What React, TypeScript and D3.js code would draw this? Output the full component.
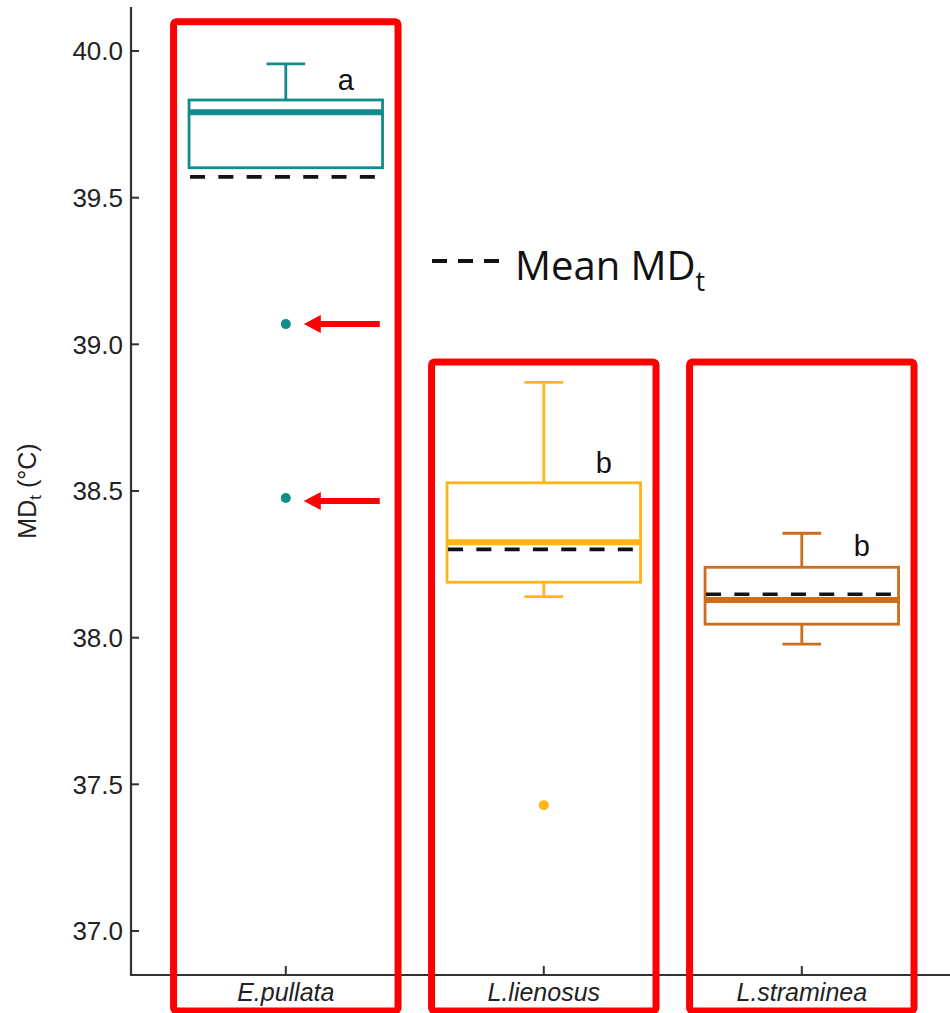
import React from "react";
import * as d3 from "d3";

// Species and their box-plot summaries (MDt, °C)
const species = ["E.pullata", "L.lienosus", "L.straminea"];
const whiskerLow = [39.602, 38.14, 37.978];
const q1 = [39.602, 38.189, 38.046];
const medians = [39.791, 38.325, 38.128];
const q3 = [39.833, 38.528, 38.24];
const whiskerHigh = [39.956, 38.87, 38.356];
const means = [39.571, 38.301, 38.148];
const outliers = [[39.069, 38.476], [37.429], []];
const groupLetters = ["a", "b", "b"];
const letterValues = [39.868, 38.561, 38.278];
const colors = ["#118C8C", "#FFB614", "#CC6D1A"];
const yTicks = [37.0, 37.5, 38.0, 38.5, 39.0, 39.5, 40.0];
// Highlight frames: top of each frame in data units
const frameTops = [40.1, 38.94, 38.94];
// Outliers pointed out with arrows
const arrowTargets = [39.069, 38.476];

const W = 950;
const H = 1013;
const axisX = 131;
const axisY = 975;

export default function App() {
  const y = d3.scaleLinear().domain([37, 40]).range([931, 51]);
  const x = d3.scaleLinear().domain([0.4, 3.6]).range([axisX, axisX + 3.2 * 258]);
  const boxHalf = x(1.375) - x(1);
  const capHalf = x(1.075) - x(1);
  const frameHalf = x(1.435) - x(1);
  const font = "'Liberation Sans', Arial, sans-serif";
  const axisColor = "#333333";
  const boxStroke = 2.8;

  return (
    <svg
      width={W}
      height={H}
      style={{ position: "absolute", left: 0, top: 0, background: "#fff" }}
    >
      <rect x={0} y={0} width={W} height={H} fill="#fff" />

      {/* axes */}
      <line x1={axisX} y1={7} x2={axisX} y2={axisY + 1} stroke={axisColor} strokeWidth={2.2} />
      <line x1={axisX - 1} y1={axisY} x2={W} y2={axisY} stroke={axisColor} strokeWidth={2.2} />
      {yTicks.map((t) => (
        <g key={t}>
          <line x1={axisX} x2={axisX + 8} y1={y(t)} y2={y(t)} stroke={axisColor} strokeWidth={2} />
          <text
            x={axisX - 8}
            y={y(t)}
            dy="0.36em"
            textAnchor="end"
            fontFamily={font}
            fontSize={26}
            fill="#222"
          >
            {t.toFixed(1)}
          </text>
        </g>
      ))}
      {species.map((s, i) => (
        <g key={s}>
          <line x1={x(i + 1)} x2={x(i + 1)} y1={axisY} y2={axisY - 9} stroke={axisColor} strokeWidth={2} />
          <text
            x={x(i + 1)}
            y={axisY + 26}
            textAnchor="middle"
            fontFamily={font}
            fontSize={25}
            fontStyle="italic"
            fill="#222"
          >
            {s}
          </text>
        </g>
      ))}
      <text
        transform={`translate(36, ${y(38.5)}) rotate(-90)`}
        textAnchor="middle"
        fontFamily={font}
        fontSize={25}
        fill="#222"
      >
        MD<tspan fontSize={17} dy={5}>t</tspan>
        <tspan dy={-5}> (°C)</tspan>
      </text>

      {/* box plots */}
      {species.map((s, i) => {
        const cx = x(i + 1);
        const c = colors[i];
        return (
          <g key={s}>
            <line x1={cx} x2={cx} y1={y(whiskerHigh[i])} y2={y(q3[i])} stroke={c} strokeWidth={boxStroke} />
            <line x1={cx} x2={cx} y1={y(q1[i])} y2={y(whiskerLow[i])} stroke={c} strokeWidth={boxStroke} />
            <line x1={cx - capHalf} x2={cx + capHalf} y1={y(whiskerHigh[i])} y2={y(whiskerHigh[i])} stroke={c} strokeWidth={boxStroke} />
            {whiskerLow[i] < q1[i] && (
              <line x1={cx - capHalf} x2={cx + capHalf} y1={y(whiskerLow[i])} y2={y(whiskerLow[i])} stroke={c} strokeWidth={boxStroke} />
            )}
            <rect
              x={cx - boxHalf}
              y={y(q3[i])}
              width={2 * boxHalf}
              height={y(q1[i]) - y(q3[i])}
              fill="#fff"
              stroke={c}
              strokeWidth={boxStroke}
            />
            <line x1={cx - boxHalf} x2={cx + boxHalf} y1={y(medians[i])} y2={y(medians[i])} stroke={c} strokeWidth={6} />
            <line
              x1={cx - boxHalf + 1}
              x2={cx + boxHalf - 1}
              y1={y(means[i])}
              y2={y(means[i])}
              stroke="#111"
              strokeWidth={3.6}
              strokeDasharray="15 13.3"
            />
            {outliers[i].map((o, j) => (
              <circle key={j} cx={cx} cy={y(o)} r={5} fill={c} />
            ))}
            <text
              x={cx + 60}
              y={y(letterValues[i])}
              textAnchor="middle"
              fontFamily={font}
              fontSize={29}
              fill="#111"
            >
              {groupLetters[i]}
            </text>
          </g>
        );
      })}

      {/* highlight frames */}
      {species.map((s, i) => (
        <rect
          key={`f-${s}`}
          x={x(i + 1) - frameHalf}
          y={y(frameTops[i])}
          width={2 * frameHalf}
          height={1011 - y(frameTops[i])}
          fill="none"
          stroke="#FF0000"
          strokeWidth={7}
          rx={3}
        />
      ))}

      {/* arrows to the E.pullata outliers */}
      {arrowTargets.map((v, j) => {
        const tip = x(1) + 18;
        const tail = x(1) + 94;
        const cy = y(v) + j * 3;
        return (
          <g key={`a-${j}`}>
            <line x1={tip + 14} x2={tail} y1={cy} y2={cy} stroke="#FF0000" strokeWidth={6} />
            <path d={`M${tip},${cy} L${tip + 17},${cy - 9} L${tip + 17},${cy + 9} Z`} fill="#FF0000" />
          </g>
        );
      })}

      {/* legend for the mean line */}
      <line
        x1={432}
        x2={501}
        y1={261}
        y2={261}
        stroke="#111"
        strokeWidth={4}
        strokeDasharray="15 11"
      />
      <text x={515} y={280} fontFamily="'Open Sans', 'Noto Sans', sans-serif" fontSize={40} fill="#111">
        Mean MD<tspan fontSize={27} dy={11}>t</tspan>
      </text>
    </svg>
  );
}
